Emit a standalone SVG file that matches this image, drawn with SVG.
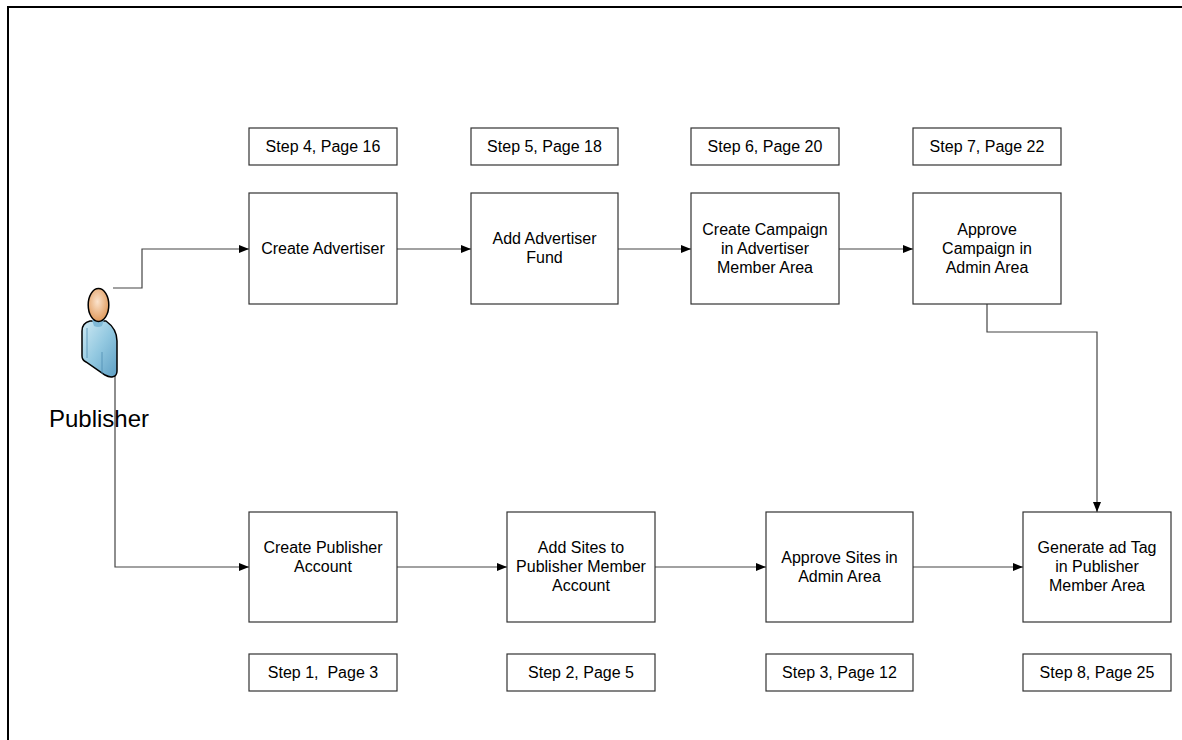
<svg xmlns="http://www.w3.org/2000/svg" width="1182" height="740" viewBox="0 0 1182 740">
<style>
.box{fill:#fff;stroke:#333;stroke-width:1.2}
.t{font-family:"Liberation Sans",Arial,sans-serif;font-size:16px;fill:#000;text-anchor:middle}
.c{fill:none;stroke:#444;stroke-width:1.2}
</style>
<defs>
<marker id="ah" viewBox="0 0 10 10" refX="10" refY="5" markerWidth="10" markerHeight="10" markerUnits="userSpaceOnUse" orient="auto">
<path d="M0,1 L10,5 L0,9 Z" fill="#000"/>
</marker>
<radialGradient id="skin" cx="0.45" cy="0.4" r="0.6">
<stop offset="0" stop-color="#fbe3cc"/>
<stop offset="1" stop-color="#e09a5c"/>
</radialGradient>
<linearGradient id="shirt" x1="0" y1="0" x2="1" y2="1">
<stop offset="0" stop-color="#cfeaf4"/>
<stop offset="0.5" stop-color="#92c8e0"/>
<stop offset="1" stop-color="#5e9fc4"/>
</linearGradient>
</defs>
<rect x="0" y="0" width="1182" height="740" fill="#fff"/>
<path d="M8,740 L8,7 L1182,7" fill="none" stroke="#000" stroke-width="2"/>

<g id="connectors">
<path class="c" d="M113,288 L142,288 L142,249 L249,249" marker-end="url(#ah)"/>
<path class="c" d="M115,374 L115,567 L249,567" marker-end="url(#ah)"/>
<path class="c" d="M397,249 L471,249" marker-end="url(#ah)"/>
<path class="c" d="M618,249 L691,249" marker-end="url(#ah)"/>
<path class="c" d="M839,249 L913,249" marker-end="url(#ah)"/>
<path class="c" d="M987,304 L987,332 L1097,332 L1097,512" marker-end="url(#ah)"/>
<path class="c" d="M397,567 L507,567" marker-end="url(#ah)"/>
<path class="c" d="M655,567 L766,567" marker-end="url(#ah)"/>
<path class="c" d="M913,567 L1023,567" marker-end="url(#ah)"/>
</g>

<g id="publisher">
<path d="M90,321 C86,322 82,325 82,331 L82,356 C82,359 84,361 86,362 L105,375 C110,378 117,378 117,371 L117,341 C117,333 113,326 106,321 Z" fill="url(#shirt)" stroke="#000" stroke-width="1.5"/>
<path d="M92,320 L104,320 L102,326 Q98,328 94,326 Z" fill="#7fb9d6"/>
<path d="M87,328 L87,358 M102,352 L102,374" stroke="#4f8db3" stroke-width="0.8" fill="none"/>
<ellipse cx="98.5" cy="305" rx="10.3" ry="16.5" fill="url(#skin)" stroke="#000" stroke-width="1.5"/>
<text x="99" y="427" style="font-family:'Liberation Sans',Arial,sans-serif;font-size:24px;text-anchor:middle">Publisher</text>
</g>

<g id="step4">
<rect class="box" x="249" y="128" width="148" height="37"/>
<text class="t" x="323" y="152">Step 4, Page 16</text>
</g>
<g id="step5">
<rect class="box" x="471" y="128" width="147" height="37"/>
<text class="t" x="544.5" y="152">Step 5, Page 18</text>
</g>
<g id="step6">
<rect class="box" x="691" y="128" width="148" height="37"/>
<text class="t" x="765" y="152">Step 6, Page 20</text>
</g>
<g id="step7">
<rect class="box" x="913" y="128" width="148" height="37"/>
<text class="t" x="987" y="152">Step 7, Page 22</text>
</g>

<g id="create-advertiser">
<rect class="box" x="249" y="193" width="148" height="111"/>
<text class="t" x="323" y="254">Create Advertiser</text>
</g>
<g id="add-advertiser-fund">
<rect class="box" x="471" y="193" width="147" height="111"/>
<text class="t" x="544.5" y="244">Add Advertiser</text>
<text class="t" x="544.5" y="263">Fund</text>
</g>
<g id="create-campaign">
<rect class="box" x="691" y="193" width="148" height="111"/>
<text class="t" x="765" y="235">Create Campaign</text>
<text class="t" x="765" y="254">in Advertiser</text>
<text class="t" x="765" y="273">Member Area</text>
</g>
<g id="approve-campaign">
<rect class="box" x="913" y="193" width="148" height="111"/>
<text class="t" x="987" y="235">Approve</text>
<text class="t" x="987" y="254">Campaign in</text>
<text class="t" x="987" y="273">Admin Area</text>
</g>

<g id="create-publisher-account">
<rect class="box" x="249" y="512" width="148" height="110"/>
<text class="t" x="323" y="553">Create Publisher</text>
<text class="t" x="323" y="572">Account</text>
</g>
<g id="add-sites">
<rect class="box" x="507" y="512" width="148" height="110"/>
<text class="t" x="581" y="553">Add Sites to</text>
<text class="t" x="581" y="572">Publisher Member</text>
<text class="t" x="581" y="591">Account</text>
</g>
<g id="approve-sites">
<rect class="box" x="766" y="512" width="147" height="110"/>
<text class="t" x="839.5" y="563">Approve Sites in</text>
<text class="t" x="839.5" y="582">Admin Area</text>
</g>
<g id="generate-ad-tag">
<rect class="box" x="1023" y="512" width="148" height="110"/>
<text class="t" x="1097" y="553">Generate ad Tag</text>
<text class="t" x="1097" y="572">in Publisher</text>
<text class="t" x="1097" y="591">Member Area</text>
</g>

<g id="step1">
<rect class="box" x="249" y="654" width="148" height="37"/>
<text class="t" x="323" y="678" xml:space="preserve" style="white-space:pre">Step 1,  Page 3</text>
</g>
<g id="step2">
<rect class="box" x="507" y="654" width="148" height="37"/>
<text class="t" x="581" y="678">Step 2, Page 5</text>
</g>
<g id="step3">
<rect class="box" x="766" y="654" width="147" height="37"/>
<text class="t" x="839.5" y="678">Step 3, Page 12</text>
</g>
<g id="step8">
<rect class="box" x="1023" y="654" width="148" height="37"/>
<text class="t" x="1097" y="678">Step 8, Page 25</text>
</g>
</svg>
